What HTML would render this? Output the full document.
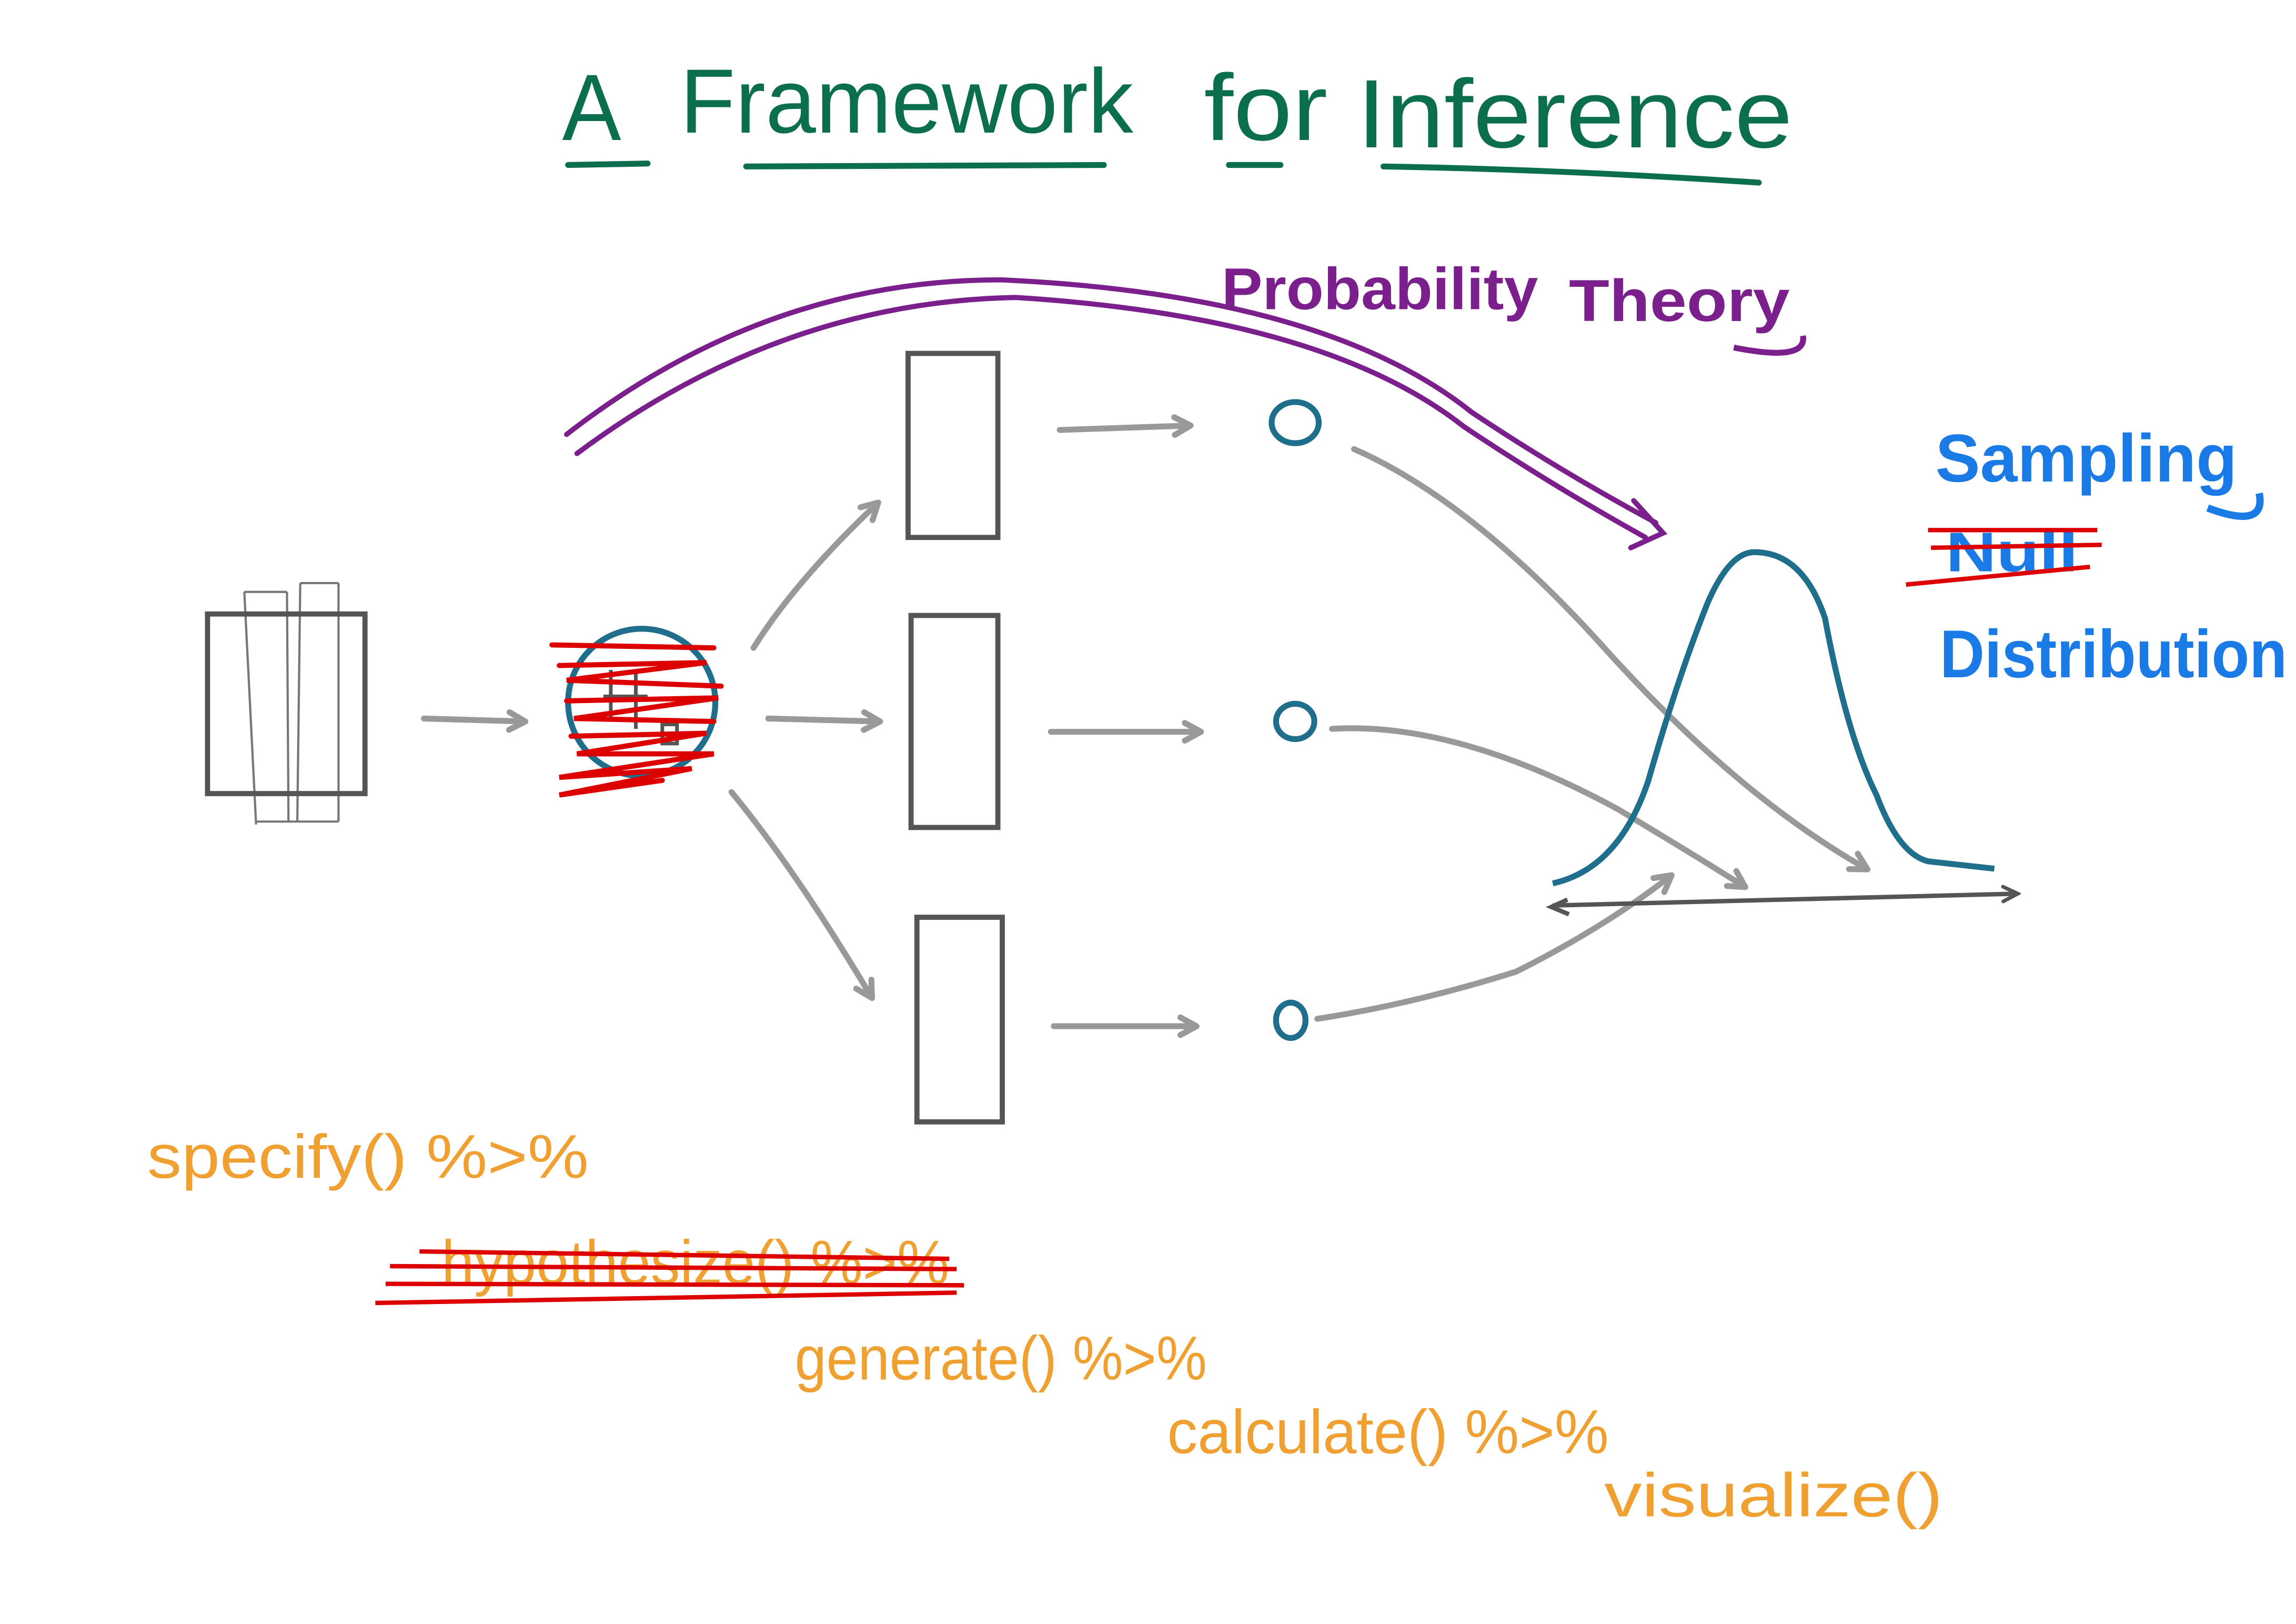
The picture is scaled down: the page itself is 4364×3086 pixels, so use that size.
<!DOCTYPE html>
<html><head><meta charset="utf-8">
<style>
html,body{margin:0;padding:0;background:#fff;}
svg{display:block;}
text{font-family:"Liberation Sans",sans-serif;}
</style></head>
<body>
<svg width="4364" height="3086" viewBox="0 0 1560 1103" xmlns="http://www.w3.org/2000/svg">
<defs>
<marker id="ga" markerWidth="16" markerHeight="16" refX="12" refY="8" orient="auto" markerUnits="userSpaceOnUse">
<path d="M2,2 L13,8 L2,14" fill="none" stroke="#999" stroke-width="4" stroke-linecap="round" stroke-linejoin="round"/>
</marker>
<marker id="da" markerWidth="14" markerHeight="14" refX="11" refY="7" orient="auto" markerUnits="userSpaceOnUse">
<path d="M2,2 L12,7 L2,12" fill="none" stroke="#555" stroke-width="2.5" stroke-linecap="round"/>
</marker>
</defs>
<!-- Title -->
<g fill="#0b6e4f">
<text x="382" y="95" font-size="64" textLength="40" lengthAdjust="spacingAndGlyphs">A</text>
<text x="462" y="90" font-size="62" textLength="308" lengthAdjust="spacingAndGlyphs">Framework</text>
<text x="818" y="95" font-size="64" textLength="84" lengthAdjust="spacingAndGlyphs">for</text>
<text x="922" y="100" font-size="66" textLength="296" lengthAdjust="spacingAndGlyphs">Inference</text>
</g>
<g stroke="#0b6e4f" stroke-width="4" stroke-linecap="round" fill="none">
<path d="M386,112 L440,111"/>
<path d="M507,113 L750,112"/>
<path d="M835,112 L870,112"/>
<path d="M940,113 Q1060,115 1195,124"/>
</g>
<!-- Probability theory -->
<text x="830" y="210" font-size="40" fill="#7b1f8c" font-weight="bold" textLength="215" lengthAdjust="spacingAndGlyphs">Probability</text>
<text x="1066" y="218" font-size="40" fill="#7b1f8c" font-weight="bold" textLength="150" lengthAdjust="spacingAndGlyphs">Theory</text>
<path d="M1178,236 Q1228,246 1225,228" stroke="#7b1f8c" stroke-width="4" fill="none"/>
<g stroke="#7b1f8c" stroke-width="3.5" fill="none" stroke-linecap="round">
<path d="M385,295 Q520,190 680,190 Q900,200 1000,280 Q1060,320 1125,355"/>
<path d="M392,308 Q530,205 690,202 Q900,215 995,290 Q1055,330 1118,365"/>
<path d="M1110,340 L1130,362 L1108,372"/>
</g>
<!-- dataset -->
<g stroke="#777" stroke-width="1.5" fill="none">
<path d="M166,402 L174,560 M195,402 L196,558 M204,396 L202,558 M230,396 L230,558"/>
<path d="M166,402 L195,402 M204,396 L230,396 M174,558 L230,558"/>
</g>
<rect x="141" y="417" width="107" height="122" fill="none" stroke="#555" stroke-width="3.5"/>
<!-- arrows -->
<g stroke="#999" stroke-width="4" fill="none" stroke-linecap="round" marker-end="url(#ga)">
<path d="M288,488 L356,490"/>
<path d="M512,440 Q540,395 596,342"/>
<path d="M522,488 L597,490"/>
<path d="M497,538 Q540,590 592,677"/>
<path d="M720,292 L808,289"/>
<path d="M714,497 L815,497"/>
<path d="M716,697 L812,697"/>
<path d="M920,305 Q1000,340 1090,440 Q1180,540 1268,590"/>
<path d="M905,495 Q990,490 1100,550 Q1150,580 1185,602"/>
<path d="M895,692 Q960,682 1030,660 Q1090,630 1135,595"/>
</g>
<!-- hypothesis circle -->
<circle cx="436" cy="477" r="50" fill="none" stroke="#1f6e8c" stroke-width="4"/>
<g stroke="#555" stroke-width="2.5" fill="none">
<path d="M415,455 L415,490 M432,455 L432,495 M410,473 L440,473 M450,492 L460,492 L460,505 L450,505 Z"/>
</g>
<g stroke="#d00" stroke-width="3.5" fill="none" stroke-linecap="round">
<path d="M375,438 L485,440 M380,452 L480,450 L385,462 L490,466 M385,476 L488,474 L390,488 L485,490 M388,500 L480,498 L392,512 L485,512 L380,528 L470,522 L380,540 L450,530"/>
</g>
<!-- rectangles -->
<g stroke="#555" stroke-width="3.5" fill="none">
<rect x="617" y="240" width="61" height="125"/>
<rect x="619" y="418" width="59" height="144"/>
<rect x="623" y="623" width="58" height="139"/>
</g>
<!-- stat circles -->
<g stroke="#1f6e8c" stroke-width="4" fill="none">
<ellipse cx="880" cy="287" rx="16" ry="14"/>
<ellipse cx="880" cy="490" rx="13" ry="12"/>
<ellipse cx="877" cy="693" rx="10" ry="12"/>
</g>
<!-- distribution -->
<path d="M1055,600 Q1100,590 1120,530 Q1140,460 1160,410 Q1175,375 1192,375 Q1225,375 1240,420 Q1255,500 1275,540 Q1290,580 1310,585 L1355,590" fill="none" stroke="#1f6e8c" stroke-width="4"/>
<path d="M1055,615 L1370,607" stroke="#555" stroke-width="3" marker-end="url(#da)" fill="none"/>
<path d="M1065,611 L1054,616 L1066,621" stroke="#555" stroke-width="3" fill="none"/>
<!-- sampling labels -->
<text x="1315" y="327" font-size="46" fill="#1a7ae6" font-weight="bold" textLength="205" lengthAdjust="spacingAndGlyphs">Sampling</text>
<path d="M1500,345 Q1540,360 1535,335" stroke="#1a7ae6" stroke-width="5" fill="none"/>
<text x="1322" y="388" font-size="38" fill="#1a7ae6" font-weight="bold" textLength="90" lengthAdjust="spacingAndGlyphs">Null</text>
<g stroke="#d00" stroke-width="3" fill="none">
<path d="M1310,360 L1425,360 M1312,372 L1428,370 M1295,397 L1420,385"/>
</g>
<text x="1318" y="460" font-size="46" fill="#1a7ae6" font-weight="bold" textLength="236" lengthAdjust="spacingAndGlyphs">Distribution</text>
<!-- code -->
<g fill="#f0a030" font-size="42">
<text x="100" y="800" textLength="300" lengthAdjust="spacingAndGlyphs">specify() %&gt;%</text>
<text x="300" y="872" textLength="345" lengthAdjust="spacingAndGlyphs">hypothesize() %&gt;%</text>
<text x="540" y="937" textLength="280" lengthAdjust="spacingAndGlyphs">generate() %&gt;%</text>
<text x="793" y="987" textLength="300" lengthAdjust="spacingAndGlyphs">calculate() %&gt;%</text>
<text x="1090" y="1030" textLength="230" lengthAdjust="spacingAndGlyphs">visualize()</text>
</g>
<g stroke="#d00" stroke-width="3" fill="none">
<path d="M285,850 L645,855 M265,860 L650,862 M262,872 L655,873 M255,885 L650,878"/>
</g>
</svg>
</body></html>
